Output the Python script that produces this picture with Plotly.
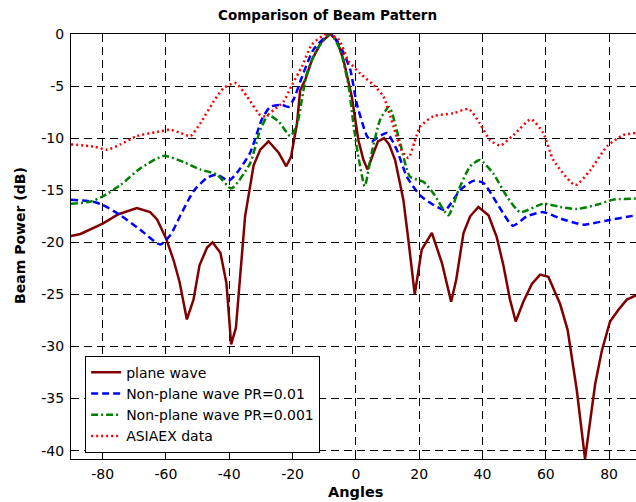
import plotly.graph_objects as go

# Beam power (dB) versus steering angle (degrees)
plane_x = [-90, -87, -80, -75, -69.2, -65, -62.8, -60, -57.6, -55.7, -53.4, -51.3, -49.4, -47, -45.3,
           -42.8, -40.9, -39.4, -37.9, -36.8, -35.8, -35, -32.3, -30.2, -27.6, -24.4, -22, -20.5,
           -18.6, -17.6, -16, -13.9, -11, -8.1, -6, -3.9, -1.3, 0.8, 2.4, 3.7, 5.6, 7, 8.9, 10.5,
           12.4, 15, 16.6, 18.6, 20.8, 24, 27.2, 30.1, 31.7, 34, 36.1, 38.7, 41.9, 44.5, 46.6, 48.7,
           50.5, 52.9, 55.6, 58.2, 60.8, 64.5, 66.9, 69.8, 72.4, 75.6, 77.7, 80.3, 82.9, 85.6, 88.5, 90]
plane_y = [-19.4, -19.2, -18.2, -17.3, -16.7, -17.1, -17.8, -19.6, -21.7, -23.8, -27.4, -25.5, -22.2,
           -20.5, -20.0, -21.0, -23.9, -29.8, -28.2, -23.9, -19.8, -17.5, -12.6, -11.1, -10.3, -11.4,
           -12.7, -11.8, -8.6, -5.4, -4.4, -2.5, -0.8, 0.0, -0.6, -2.5, -6.0, -10.2, -12.1, -13.0,
           -11.4, -10.3, -10.0, -10.6, -12.1, -15.9, -19.8, -25.0, -20.7, -19.1, -22.0, -25.7, -23.6,
           -19.1, -17.5, -16.6, -17.4, -19.5, -22.2, -25.5, -27.6, -25.7, -24.0, -23.1, -23.3, -25.9,
           -28.4, -34.2, -40.8, -33.6, -30.4, -27.6, -26.5, -25.5, -25.1, -24.9]

pr01_x = [-90, -83, -80, -74.4, -68.1, -61.8, -58.6, -55.4, -51.3, -47, -43.9, -40.2, -37.5, -33.4,
          -29.7, -27.1, -23.4, -21.3, -19.7, -17, -13.4, -8.1, -4.4, -1.8, 0.3, 3.5, 5, 7, 9.8, 12.9,
          16.1, 20.3, 24.5, 28.2, 32.9, 37.1, 40.3, 44.5, 49.6, 54, 59.2, 64.5, 71.9, 79.3, 88.5, 90]
pr01_y = [-15.9, -16.1, -16.4, -17.4, -18.8, -20.2, -19.3, -17.4, -15.1, -13.8, -13.5, -14.1, -13.3,
          -11.4, -8.2, -7.0, -6.8, -7.0, -6.3, -4.1, -1.5, 0.0, -1.5, -3.4, -6.7, -9.8, -10.3, -9.9,
          -9.5, -11.1, -13.7, -15.5, -16.4, -16.9, -15.0, -14.1, -14.3, -16.2, -18.4, -17.5, -17.1,
          -17.7, -18.3, -17.9, -17.4, -17.3]

pr001_x = [-90, -84, -80, -74.4, -68.1, -60.7, -54.4, -49.2, -43.9, -39.7, -38.6, -33.4, -30.2, -27.6,
           -24.4, -20.7, -18.6, -15.5, -12.3, -8.1, -5, -2.3, -0.8, 0.8, 2.8, 5, 7.7, 10.5, 14, 17.1,
           21.4, 24.5, 29.2, 32.4, 36.1, 39.2, 43.4, 47.7, 51.9, 59.2, 64.5, 69.8, 76.1, 81.3, 88.5, 90]
pr001_y = [-16.3, -16.1, -15.6, -14.5, -12.9, -11.7, -12.3, -13.0, -13.5, -14.8, -14.7, -12.4, -9.2,
           -7.8, -8.4, -9.8, -8.7, -3.8, -1.5, 0.0, -1.5, -5.0, -8.6, -11.8, -14.6, -11.4, -8.2, -7.0,
           -10.5, -13.7, -14.2, -15.3, -17.4, -15.0, -12.7, -12.1, -13.4, -15.6, -17.1, -16.3, -16.6,
           -16.8, -16.4, -15.9, -15.8, -15.8]

asiaex_x = [-90, -82.9, -78.6, -74.4, -69.2, -62.8, -58.6, -55.4, -52.3, -49.2, -45, -41.8, -38.1,
            -34.4, -30.2, -28.6, -26, -22.9, -20.2, -17, -13.9, -9.2, -5.5, -2.3, 1.4, 5.6, 8.7, 11.9,
            14.5, 16.6, 18.5, 20.3, 24.5, 30.8, 35.6, 39.2, 42.4, 45.6, 49.8, 55.3, 59.2, 62.4, 69.3,
            74, 79.3, 84.5, 88.5, 90]
asiaex_y = [-10.6, -10.8, -11.1, -10.6, -9.8, -9.4, -9.2, -9.5, -9.8, -8.6, -6.5, -5.2, -4.7, -6.0,
            -7.8, -7.9, -7.3, -6.5, -4.9, -3.1, -1.0, 0.0, -0.5, -2.6, -3.8, -4.9, -6.0, -8.9, -11.2,
            -11.9, -10.4, -8.9, -7.9, -7.6, -7.2, -8.6, -10.2, -10.7, -9.7, -8.2, -9.5, -12.1, -14.5,
            -13.1, -10.8, -9.7, -9.5, -9.4]

series_names = ["plane wave", "Non-plane wave PR=0.01", "Non-plane wave PR=0.001", "ASIAEX data"]
x_ticks = [-80, -60, -40, -20, 0, 20, 40, 60, 80]
y_ticks = [0, -5, -10, -15, -20, -25, -30, -35, -40]

FONT = "DejaVu Sans, Liberation Sans, Arial, sans-serif"

fig = go.Figure()
fig.add_trace(go.Scatter(x=plane_x, y=plane_y, name=series_names[0], mode="lines",
                         line=dict(color="#800000", width=2.5)))
fig.add_trace(go.Scatter(x=pr01_x, y=pr01_y, name=series_names[1], mode="lines",
                         line=dict(color="#0000ff", width=2.5, dash="7px,4px",
                                   shape="spline", smoothing=0.6)))
fig.add_trace(go.Scatter(x=pr001_x, y=pr001_y, name=series_names[2], mode="lines",
                         line=dict(color="#008000", width=2.5, dash="7px,3px,2px,3px",
                                   shape="spline", smoothing=0.6)))
fig.add_trace(go.Scatter(x=asiaex_x, y=asiaex_y, name=series_names[3], mode="lines",
                         line=dict(color="#ff0000", width=2.5, dash="2px,3px",
                                   shape="spline", smoothing=0.6)))

axis_common = dict(
    showline=True, linecolor="black", linewidth=1.2,
    showgrid=True, gridcolor="black", gridwidth=1, griddash="8px,5px",
    zeroline=False, ticks="inside", ticklen=5, tickcolor="black",
    tickfont=dict(family=FONT, size=14, color="black"),
)

fig.update_xaxes(range=[-90, 88.5], tickvals=x_ticks, ticktext=[str(v) for v in x_ticks],
                 mirror=True, ticklabelstandoff=2, **axis_common)
fig.update_yaxes(range=[-40.8, 0], tickvals=y_ticks, ticktext=[str(v) for v in y_ticks],
                 mirror=False, ticklabelstandoff=3, **axis_common)

fig.update_layout(
    width=636, height=502,
    margin=dict(l=71, r=0, t=34, b=43),
    paper_bgcolor="white", plot_bgcolor="white",
    font=dict(family=FONT, size=14, color="black"),
    showlegend=True,
    legend=dict(x=0.025, y=0.243, xanchor="left", yanchor="top",
                bgcolor="white", bordercolor="black", borderwidth=1,
                font=dict(family=FONT, size=14, color="black"),
                tracegroupgap=0, itemwidth=30,
                entrywidth=215, entrywidthmode="pixels"),
    annotations=[
        dict(text="<b>Comparison of Beam Pattern</b>", xref="paper", yref="paper",
             x=0.454, y=1, yshift=19, xanchor="center", yanchor="middle", showarrow=False,
             font=dict(family=FONT, size=13.5, color="black")),
        dict(text="<b>Angles</b>", xref="paper", yref="paper",
             x=0.503, y=0, yshift=-33, xanchor="center", yanchor="middle", showarrow=False,
             font=dict(family=FONT, size=14.5, color="black")),
        dict(text="<b>Beam Power (dB)</b>", xref="paper", yref="paper",
             x=0, xshift=-51, y=0.525, xanchor="center", yanchor="middle", showarrow=False,
             textangle=-90, font=dict(family=FONT, size=14, color="black")),
    ],
)

fig.write_html("out.html")
